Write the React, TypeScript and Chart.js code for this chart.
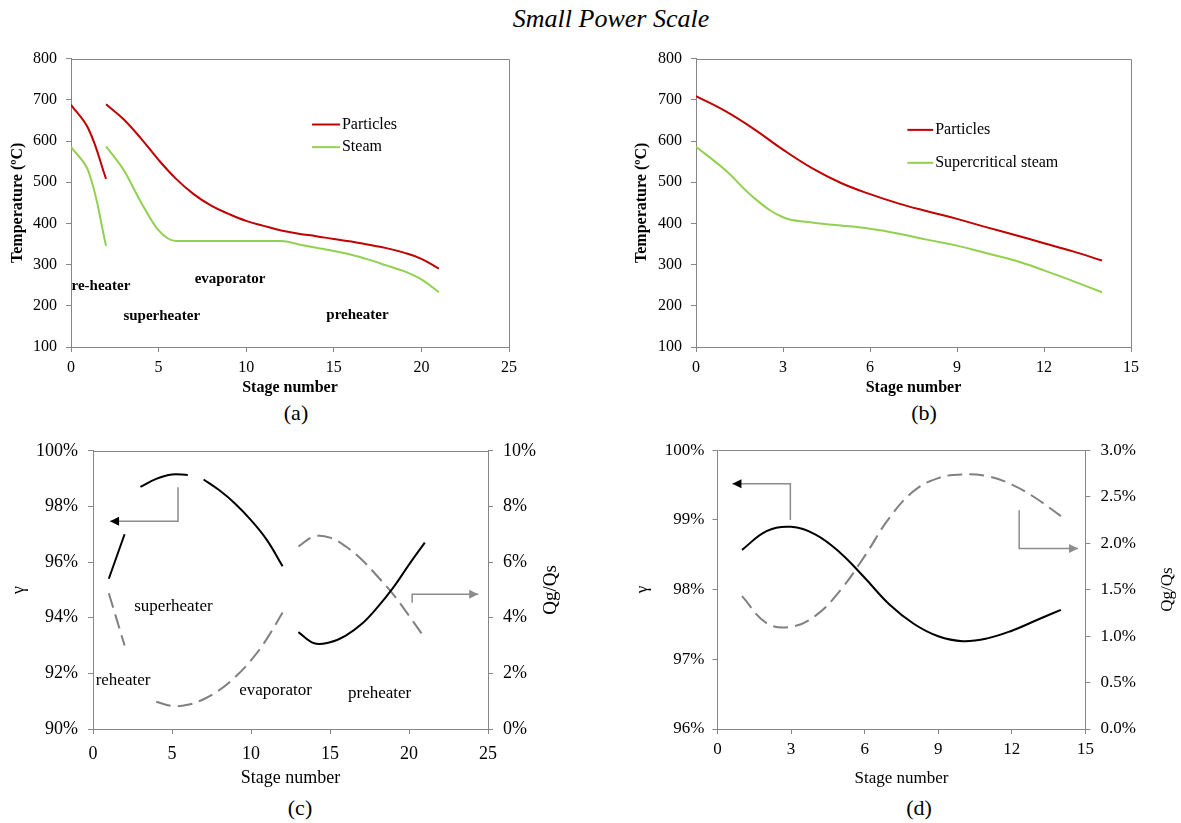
import React, { useEffect, useRef } from "react";
import { Chart, registerables } from "chart.js";

Chart.register(...registerables);

const SERIF = '"Liberation Serif", "Times New Roman", serif';
const AXIS = "#868686";
const RED = "#C00000";
const GREEN = "#92D050";
const GRAY = "#808080";

// ---------- Panel (a) ----------
const stagesAReheat = [0, 1, 2];
const particlesAReheat = [688, 629, 508];
const steamAReheat = [586, 526, 346];
const stagesAMain = [2, 3, 4, 5, 6, 7, 8, 9, 10, 11, 12, 13, 14, 15, 16, 17, 18, 19, 20, 21];
const particlesAMain = [689, 653, 606, 554, 508, 471, 443, 423, 406, 394, 383, 375, 369, 362, 356, 348, 340, 329, 314, 290];
const steamAMain = [587, 530, 451, 383, 357, 357, 357, 357, 357, 357, 357, 349, 341, 333, 324, 312, 298, 284, 264, 233];

// ---------- Panel (b) ----------
const stagesB = [0, 1, 2, 3, 4, 5, 6, 7, 8, 9, 10, 11, 12, 13, 14];
const particlesB = [709, 673, 629, 579, 534, 498, 471, 448, 429, 411, 391, 372, 352, 332, 310];
const steamB = [586, 530, 462, 415, 402, 395, 387, 375, 360, 346, 328, 310, 286, 260, 233];

// ---------- Panel (c) ----------
const stagesCGamma1 = [1, 2];
const gammaC1 = [95.4, 97.0];
const stagesCGamma2 = [3, 4, 5, 6];
const gammaC2 = [98.7, 98.99, 99.15, 99.13];
const stagesCGamma3 = [7, 8, 9, 10, 11, 12];
const gammaC3 = [98.97, 98.58, 98.1, 97.51, 96.8, 95.85];
const stagesCGamma4 = [13, 14, 15, 16, 17, 18, 19, 20, 21];
const gammaC4 = [93.48, 93.08, 93.12, 93.36, 93.77, 94.37, 95.08, 95.91, 96.7];
const stagesCQ1 = [1, 2];
const qgC1 = [4.88, 3.0];
const stagesCQ2 = [4, 5, 6, 7, 8, 9, 10, 11, 12];
const qgC2 = [0.98, 0.83, 0.87, 1.07, 1.4, 1.87, 2.47, 3.24, 4.19];
const stagesCQ3 = [13, 14, 15, 16, 17, 18, 19, 20, 21];
const qgC3 = [6.56, 6.92, 6.88, 6.56, 6.09, 5.49, 4.84, 4.07, 3.27];

// ---------- Panel (d) ----------
const stagesD = [1, 2, 3, 4, 5, 6, 7, 8, 9, 10, 11, 12, 13, 14];
const gammaD = [98.57, 98.84, 98.9, 98.79, 98.53, 98.17, 97.79, 97.51, 97.33, 97.26, 97.3, 97.41, 97.56, 97.71];
const qgD = [1.43, 1.14, 1.1, 1.22, 1.49, 1.86, 2.27, 2.56, 2.7, 2.74, 2.72, 2.63, 2.48, 2.29];

const pts = (xs: number[], ys: number[]) => xs.map((x, i) => ({ x, y: ys[i] }));

const line = (label: string, xs: number[], ys: number[], color: string, dashed = false, yAxisID = "y", monotone = false) => ({
  label,
  data: pts(xs, ys),
  borderColor: color,
  backgroundColor: color,
  borderWidth: 2,
  borderDash: dashed ? [15, 7] : [],
  pointRadius: 0,
  tension: 0.4,
  cubicInterpolationMode: monotone ? "monotone" : "default",
  fill: false,
  yAxisID,
});

const xScale = (min: number, max: number, step: number, size: number, title: string, bold: boolean, height: number, pad: number, titleSize: number) => ({
  type: "linear",
  position: "bottom",
  min,
  max,
  ticks: { stepSize: step, color: "#000", font: { family: SERIF, size }, padding: pad, maxRotation: 0, autoSkip: false },
  grid: { display: true, drawOnChartArea: false, drawTicks: true, tickLength: 5, color: AXIS },
  border: { display: true, color: AXIS, width: 1 },
  title: { display: true, text: title, color: "#000", font: { family: SERIF, size: titleSize, weight: bold ? "bold" : "normal" }, padding: { top: 0, bottom: 0 } },
  afterFit: (s: any) => { s.height = height; },
});

const yScale = (pos: string, min: number, max: number, step: number, size: number, title: string | null, bold: boolean, width: number, pad: number, titlePad: number, titleSize: number, fmt?: (v: number) => string) => ({
  type: "linear",
  position: pos,
  min,
  max,
  ticks: { stepSize: step, color: "#000", font: { family: SERIF, size }, padding: pad, callback: fmt ? (v: any) => fmt(Number(v)) : undefined },
  grid: { display: true, drawOnChartArea: false, drawTicks: true, tickLength: 5, color: AXIS },
  border: { display: true, color: AXIS, width: 1 },
  title: title
    ? { display: true, text: title, color: "#000", font: { family: SERIF, size: titleSize, weight: bold ? "bold" : "normal" }, padding: { top: titlePad, bottom: 0 } }
    : { display: false },
  afterFit: (s: any) => { s.width = width; },
});

type Spec = {
  texts?: { t: string; x: number; y: number; size: number; bold?: boolean; align?: string }[];
  legend?: { t: string; color: string; x1: number; x2: number; y: number; size: number }[];
  arrows?: { p: number[][]; color: string; head: string }[];
  rightTitle?: { t: string; x: number; size: number };
};

const annotPlugin = (spec: Spec) => ({
  id: "annot",
  afterDraw(chart: any) {
    const ctx = chart.ctx;
    const xs = chart.scales.x;
    const ys = chart.scales.y;
    const px = (v: number) => xs.getPixelForValue(v);
    const py = (v: number) => ys.getPixelForValue(v);
    const { left, right, top, bottom } = chart.chartArea;
    ctx.save();
    // frame (top & right)
    ctx.strokeStyle = AXIS;
    ctx.lineWidth = 1;
    ctx.beginPath();
    const t = Math.round(top) + 0.5;
    const r = Math.round(right) + 0.5;
    ctx.moveTo(Math.round(left) + 0.5, t);
    ctx.lineTo(r, t);
    ctx.lineTo(r, Math.round(bottom) + 0.5);
    ctx.stroke();

    ctx.fillStyle = "#000";
    ctx.textBaseline = "middle";
    (spec.texts || []).forEach((a) => {
      ctx.font = `${a.bold ? "bold " : ""}${a.size}px ${SERIF}`;
      ctx.textAlign = a.align || "center";
      ctx.fillText(a.t, px(a.x), py(a.y));
    });
    (spec.legend || []).forEach((l) => {
      ctx.strokeStyle = l.color;
      ctx.lineWidth = 2;
      ctx.setLineDash([]);
      ctx.beginPath();
      ctx.moveTo(px(l.x1), py(l.y));
      ctx.lineTo(px(l.x2), py(l.y));
      ctx.stroke();
      ctx.font = `${l.size}px ${SERIF}`;
      ctx.textAlign = "left";
      ctx.fillStyle = "#000";
      ctx.fillText(l.t, px(l.x2) + 2, py(l.y));
    });
    (spec.arrows || []).forEach((a) => {
      const p = a.p.map((q) => [px(q[0]), py(q[1])]);
      ctx.strokeStyle = a.color;
      ctx.lineWidth = 1.5;
      ctx.beginPath();
      p.forEach((q, i) => (i === 0 ? ctx.moveTo(q[0], q[1]) : ctx.lineTo(q[0], q[1])));
      const n = p.length;
      const [ex, ey] = p[n - 1];
      const [sx, sy] = p[n - 2];
      const ang = Math.atan2(ey - sy, ex - sx);
      const L = 9, W = 4.5;
      const bx = ex - L * Math.cos(ang);
      const by = ey - L * Math.sin(ang);
      ctx.stroke();
      ctx.fillStyle = a.head;
      ctx.beginPath();
      ctx.moveTo(ex, ey);
      ctx.lineTo(bx - W * Math.sin(ang), by + W * Math.cos(ang));
      ctx.lineTo(bx + W * Math.sin(ang), by - W * Math.cos(ang));
      ctx.closePath();
      ctx.fill();
    });
    if (spec.rightTitle) {
      const rt = spec.rightTitle;
      ctx.fillStyle = "#000";
      ctx.font = `${rt.size}px ${SERIF}`;
      ctx.textAlign = "center";
      ctx.translate(rt.x, (top + bottom) / 2);
      ctx.rotate(-Math.PI / 2);
      ctx.fillText(rt.t, 0, 0);
    }
    ctx.restore();
  },
});

const baseOptions = (padTop: number, padRight: number, scales: any) => ({
  animation: false,
  responsive: false,
  maintainAspectRatio: false,
  devicePixelRatio: 1,
  layout: { padding: { top: padTop, right: padRight, left: 0, bottom: 0 } },
  plugins: { legend: { display: false }, tooltip: { enabled: false } },
  elements: { point: { radius: 0 } },
  scales,
});

const pct = (v: number) => `${v}%`;

const buildA = () => ({
  type: "line",
  data: {
    datasets: [
      line("Particles", stagesAReheat, particlesAReheat, RED),
      line("Particles", stagesAMain, particlesAMain, RED),
      line("Steam", stagesAReheat, steamAReheat, GREEN),
      line("Steam", stagesAMain, steamAMain, GREEN, false, "y", true),
    ],
  },
  options: baseOptions(13, 31, {
    x: xScale(0, 25, 5, 16, "Stage number", true, 50, 6, 16),
    y: yScale("left", 100, 800, 100, 16, "Temperature (ºC)", true, 71, 9, 8.4, 16),
  }),
  plugins: [
    annotPlugin({
      texts: [
        { t: "re-heater", x: 1.71, y: 247, size: 15, bold: true },
        { t: "superheater", x: 5.18, y: 175, size: 15, bold: true },
        { t: "evaporator", x: 9.08, y: 265, size: 15, bold: true },
        { t: "preheater", x: 16.35, y: 178, size: 15, bold: true },
      ],
      legend: [
        { t: "Particles", color: RED, x1: 13.76, x2: 15.35, y: 640, size: 16 },
        { t: "Steam", color: GREEN, x1: 13.76, x2: 15.35, y: 585, size: 16 },
      ],
    }),
  ],
});

const buildB = () => ({
  type: "line",
  data: {
    datasets: [
      line("Particles", stagesB, particlesB, RED),
      line("Supercritical steam", stagesB, steamB, GREEN),
    ],
  },
  options: baseOptions(13, 29, {
    x: xScale(0, 15, 3, 16, "Stage number", true, 50, 6, 16),
    y: yScale("left", 100, 800, 100, 16, "Temperature (ºC)", true, 76, 9, 12, 16),
  }),
  plugins: [
    annotPlugin({
      legend: [
        { t: "Particles", color: RED, x1: 7.29, x2: 8.18, y: 627, size: 16 },
        { t: "Supercritical steam", color: GREEN, x1: 7.29, x2: 8.18, y: 547, size: 16 },
      ],
    }),
  ],
});

const buildC = () => ({
  type: "line",
  data: {
    datasets: [
      line("γ", stagesCGamma1, gammaC1, "#000"),
      line("γ", stagesCGamma2, gammaC2, "#000"),
      line("γ", stagesCGamma3, gammaC3, "#000"),
      line("γ", stagesCGamma4, gammaC4, "#000"),
      line("Qg/Qs", stagesCQ1, qgC1, GRAY, true, "y1"),
      line("Qg/Qs", stagesCQ2, qgC2, GRAY, true, "y1"),
      line("Qg/Qs", stagesCQ3, qgC3, GRAY, true, "y1"),
    ],
  },
  options: baseOptions(18, 0, {
    x: xScale(0, 25, 5, 18, "Stage number", false, 60, 9, 18),
    y: yScale("left", 90, 100, 2, 18, "γ", false, 93, 10, 8.8, 18, pct),
    y1: yScale("right", 0, 10, 2, 18, null, false, 92, 10, 0, 18, pct),
  }),
  plugins: [
    annotPlugin({
      texts: [
        { t: "superheater", x: 5.09, y: 94.42, size: 17 },
        { t: "reheater", x: 1.9, y: 91.75, size: 17 },
        { t: "evaporator", x: 11.55, y: 91.4, size: 17 },
        { t: "preheater", x: 18.14, y: 91.29, size: 17 },
      ],
      arrows: [
        { p: [[5.38, 98.69], [5.38, 97.47], [1.08, 97.47]], color: "#8c8c8c", head: "#000" },
        { p: [[20.2, 94.54], [20.2, 94.84], [24.38, 94.84]], color: "#8c8c8c", head: "#8c8c8c" },
      ],
      rightTitle: { t: "Qg/Qs", x: 551, size: 19 },
    }),
  ],
});

const buildD = () => ({
  type: "line",
  data: {
    datasets: [
      line("γ", stagesD, gammaD, "#000"),
      line("Qg/Qs", stagesD, qgD, GRAY, true, "y1"),
    ],
  },
  options: baseOptions(18, 0, {
    x: xScale(0, 15, 3, 17, "Stage number", false, 60, 5, 17),
    y: yScale("left", 96, 100, 1, 17, "γ", false, 97.5, 8, 12.8, 17, pct),
    y1: yScale("right", 0, 3, 0.5, 17, null, false, 95.6, 10, 0, 17, (v) => `${v.toFixed(1)}%`),
  }),
  plugins: [
    annotPlugin({
      arrows: [
        { p: [[2.97, 99.0], [2.97, 99.52], [0.61, 99.52]], color: "#8c8c8c", head: "#000" },
        { p: [[12.3, 99.14], [12.3, 98.59], [14.7, 98.59]], color: "#8c8c8c", head: "#8c8c8c" },
      ],
      rightTitle: { t: "Qg/Qs", x: 548, size: 17 },
    }),
  ],
});

function ChartPanel({ left, top, width, height, build }: { left: number; top: number; width: number; height: number; build: () => any }) {
  const ref = useRef<HTMLCanvasElement>(null);
  useEffect(() => {
    const chart = new Chart(ref.current as HTMLCanvasElement, build());
    return () => chart.destroy();
  }, []);
  return (
    <canvas
      ref={ref}
      width={width}
      height={height}
      style={{ position: "absolute", left, top, width, height }}
    />
  );
}

function Label({ x, y, size, text, italic = false }: { x: number; y: number; size: number; text: string; italic?: boolean }) {
  return (
    <div
      style={{
        position: "absolute",
        left: x,
        top: y,
        transform: "translate(-50%, -50%)",
        fontFamily: SERIF,
        fontSize: size,
        fontStyle: italic ? "italic" : "normal",
        lineHeight: 1,
        whiteSpace: "nowrap",
        color: "#000",
      }}
    >
      {text}
    </div>
  );
}

export default function App() {
  return (
    <div style={{ position: "absolute", left: 0, top: 0, width: 1181, height: 823, background: "#fff", overflow: "hidden" }}>
      <Label x={611} y={19} size={26} text="Small Power Scale" italic />
      <ChartPanel left={0} top={40} width={540} height={357} build={buildA} />
      <ChartPanel left={620} top={40} width={540} height={357} build={buildB} />
      <ChartPanel left={0} top={430} width={580} height={359} build={buildC} />
      <ChartPanel left={620} top={430} width={561} height={359} build={buildD} />
      <Label x={296} y={413} size={22} text="(a)" />
      <Label x={924} y={413} size={22} text="(b)" />
      <Label x={300} y={808} size={22} text="(c)" />
      <Label x={919} y={808} size={22} text="(d)" />
    </div>
  );
}
